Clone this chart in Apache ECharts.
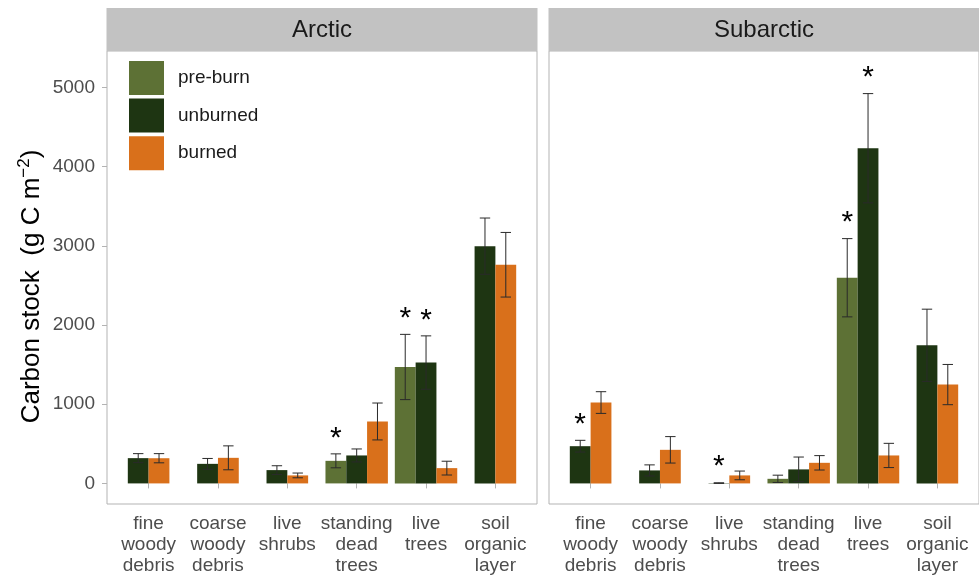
<!DOCTYPE html>
<html>
<head>
<meta charset="utf-8">
<script src="https://cdn.jsdelivr.net/npm/echarts@6.0.0/dist/echarts.min.js"></script>
<style>
  html, body { margin: 0; padding: 0; background: #fff; }
  #chart { width: 979px; height: 578px; }
</style>
</head>
<body>
<div id="chart"></div>
<script>
const categories = ['fine\nwoody\ndebris', 'coarse\nwoody\ndebris', 'live\nshrubs', 'standing\ndead\ntrees', 'live\ntrees', 'soil\norganic\nlayer'];
const panels = ['Arctic', 'Subarctic'];
const groups = ['pre-burn', 'unburned', 'burned'];
const groupColors = ['#5d7135', '#1e3512', '#d9701b'];
const yTicks = [0, 1000, 2000, 3000, 4000, 5000];

// carbon stock means and standard errors (g C m-2), null = no data
const arcticPreBurn = [null, null, null, 285, 1470, null];
const arcticPreBurnSe = [null, null, null, 88, 412, null];
const arcticUnburned = [319, 247, 168, 353, 1526, 2996];
const arcticUnburnedSe = [57, 68, 55, 82, 337, 355];
const arcticBurned = [318, 323, 101, 782, 193, 2761];
const arcticBurnedSe = [58, 151, 30, 233, 87, 408];

const subarcticPreBurn = [null, null, null, 58, 2597, null];
const subarcticPreBurnSe = [null, null, null, 46, 494, null];
const subarcticUnburned = [470, 164, 4, 177, 4232, 1744];
const subarcticUnburnedSe = [74, 70, 4, 156, 690, 456];
const subarcticBurned = [1021, 424, 101, 260, 353, 1248];
const subarcticBurnedSe = [137, 167, 55, 91, 153, 254];

// significant differences: category indexes marked with * for each group
const arcticStars = [[3, 4], [4], []];
const subarcticStars = [[4], [0, 2, 4], []];

const panelMeans = [
  [arcticPreBurn, arcticUnburned, arcticBurned],
  [subarcticPreBurn, subarcticUnburned, subarcticBurned]
];
const panelSe = [
  [arcticPreBurnSe, arcticUnburnedSe, arcticBurnedSe],
  [subarcticPreBurnSe, subarcticUnburnedSe, subarcticBurnedSe]
];
const panelStars = [arcticStars, subarcticStars];

const FONT = "'Liberation Sans', Arial, sans-serif";
const GRID_LEFT = [107, 549];
const GRID_TOP = 51;
const GRID_W = 430;
const GRID_H = 453;
const BAR_W = 0.3;      // dodge width per bar, in category units
const STAR_GAP = 285;   // star sits this far above the error bar

// x position of a bar: groups present in a category are centred on it
function dodgeX(p, g, ci) {
  const present = [0, 1, 2].filter(k => panelMeans[p][k][ci] != null);
  const slot = present.indexOf(g);
  return ci + 1 + (slot - (present.length - 1) / 2) * BAR_W;
}

function renderBar(params, api) {
  const x = api.value(0), y = api.value(1), se = api.value(2);
  const base = api.coord([x, 0]);
  const top = api.coord([x, y]);
  const w = api.size([BAR_W, 0])[0];
  const hi = api.coord([x, y + se]);
  const lo = api.coord([x, y - se]);
  const cap = w / 4;
  const line = { stroke: '#2a2a2a', lineWidth: 1 };
  return {
    type: 'group',
    children: [
      { type: 'rect', shape: { x: base[0] - w / 2, y: top[1], width: w, height: base[1] - top[1] }, style: { fill: api.visual('color') } },
      { type: 'line', shape: { x1: hi[0], y1: hi[1], x2: lo[0], y2: lo[1] }, style: line },
      { type: 'line', shape: { x1: hi[0] - cap, y1: hi[1], x2: hi[0] + cap, y2: hi[1] }, style: line },
      { type: 'line', shape: { x1: lo[0] - cap, y1: lo[1], x2: lo[0] + cap, y2: lo[1] }, style: line }
    ]
  };
}

function renderStar(params, api) {
  const pt = api.coord([api.value(0), api.value(1)]);
  return {
    type: 'text',
    style: { text: '*', x: pt[0], y: pt[1] + 7, align: 'center', verticalAlign: 'middle', fontSize: 30, fontFamily: FONT, fill: '#000' }
  };
}

const series = [];
panels.forEach((name, p) => {
  groups.forEach((gname, g) => {
    const data = [];
    panelMeans[p][g].forEach((v, ci) => {
      if (v != null) data.push([dodgeX(p, g, ci), v, panelSe[p][g][ci]]);
    });
    series.push({
      name: gname, type: 'custom', xAxisIndex: p, yAxisIndex: p,
      itemStyle: { color: groupColors[g] },
      renderItem: renderBar, data: data, silent: true
    });
  });
  const stars = [];
  panelStars[p].forEach((list, g) => {
    list.forEach(ci => {
      stars.push([dodgeX(p, g, ci), panelMeans[p][g][ci] + panelSe[p][g][ci] + STAR_GAP]);
    });
  });
  series.push({ type: 'custom', xAxisIndex: p, yAxisIndex: p, renderItem: renderStar, data: stars, silent: true });
});

const chart = echarts.init(document.getElementById('chart'));
chart.setOption({
  animation: false,
  textStyle: { fontFamily: FONT },
  grid: panels.map((_, p) => ({
    left: GRID_LEFT[p], top: GRID_TOP, width: GRID_W, height: GRID_H,
    show: true, borderColor: '#b3b3b3', borderWidth: 1, backgroundColor: '#fff'
  })),
  xAxis: panels.map((_, p) => ({
    type: 'value', gridIndex: p, min: 0.4, max: 6.6,
    splitLine: { show: false }, axisLine: { show: false },
    axisTick: { show: true, customValues: [1, 2, 3, 4, 5, 6], length: 5, lineStyle: { color: '#b3b3b3' } },
    axisLabel: {
      customValues: [1, 2, 3, 4, 5, 6], formatter: v => categories[v - 1],
      fontSize: 19, lineHeight: 21, color: '#4d4d4d', margin: 9, fontFamily: FONT
    }
  })),
  yAxis: panels.map((_, p) => ({
    type: 'value', gridIndex: p, min: -260, max: 5460,
    splitLine: { show: false }, axisLine: { show: false },
    axisTick: { show: p === 0, customValues: yTicks, length: 5, lineStyle: { color: '#b3b3b3' } },
    axisLabel: { show: p === 0, customValues: yTicks, formatter: v => String(v), fontSize: 19, color: '#4d4d4d', margin: 12, fontFamily: FONT },
    name: p === 0 ? 'Carbon stock  (g C m{sup|\u22122})' : '',
    nameLocation: 'middle', nameRotate: 90, nameGap: 59,
    nameTextStyle: {
      fontSize: 26, color: '#000', fontFamily: FONT, lineHeight: 32, padding: [0, 18, 0, 0],
      rich: { sup: { fontSize: 17, verticalAlign: 'top', lineHeight: 32, color: '#000', fontFamily: FONT } }
    }
  })),
  legend: {
    data: groups, orient: 'vertical', left: 129, top: 61, padding: 0,
    itemWidth: 35, itemHeight: 34, itemGap: 3.6, icon: 'rect',
    textStyle: { fontSize: 19, color: '#1a1a1a', fontFamily: FONT, padding: [0, 0, 0, 9] }
  },
  graphic: panels.flatMap((name, p) => [
    { type: 'rect', shape: { x: GRID_LEFT[p] - 0.5, y: 8, width: GRID_W + 1, height: GRID_TOP - 8 }, style: { fill: '#c2c2c2' }, silent: true },
    { type: 'text', x: GRID_LEFT[p] + GRID_W / 2, y: (8 + GRID_TOP) / 2 + 1,
      style: { text: name, align: 'center', verticalAlign: 'middle', fontSize: 24, fontFamily: FONT, fill: '#1a1a1a' }, silent: true }
  ]),
  series: series
});
</script>
</body>
</html>
